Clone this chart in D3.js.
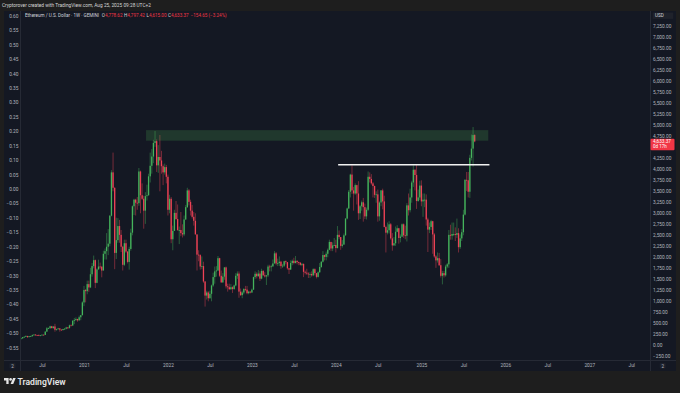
<!DOCTYPE html>
<html><head><meta charset="utf-8">
<script src="https://cdn.jsdelivr.net/npm/d3@7"></script>
<style>html,body{margin:0;padding:0;background:#1e1e1e;overflow:hidden}svg{display:block}</style>
</head><body><svg id="c" width="680" height="393"></svg>
<script>
// ---- DATA (ETH/USD weekly, Gemini) ----
const firstWeek = "2020-03-30";
const opens = [
131,143,158,186,197,210,187,207,208,231,244,233,229,221,227,241,236,311,386,391,433,391,428,353,366,384,355,346,370,377,406,396,453,448,560,575,597,567,637,684,
975,1255,1230,1390,1315,1615,1800,1935,1420,1725,1790,1785,1700,2080,2140,2240,2310,2945,3930,3580,2100,2390,2710,2510,2240,1830,2320,2130,1895,2190,2560,3160,3310,3240,3230,3950,3410,3330,3060,3390,3410,3840,4080,4290,4600,4640,4090,4280,4200,4070,3930,4050,
3830,3080,3330,2410,2600,3010,2870,2620,2620,2550,2520,2860,3140,3520,3260,3060,2920,2830,2520,2060,2050,1790,1800,1450,1130,1200,1070,1170,1360,1550,1680,1700,1980,1580,1430,1560,1770,1340,1320,1275,1320,1280,1360,1580,1630,1220,1140,1200,1280,1265,1185,1220,
1200,1265,1550,1625,1570,1630,1515,1690,1590,1565,1590,1790,1780,1795,1860,2090,1860,1870,1900,1800,1810,1910,1890,1750,1720,1870,1920,1870,1920,1890,1880,1830,1850,1670,1650,1630,1620,1620,1590,1730,1640,1555,1660,1780,1900,2050,2010,2080,2170,2350,2200,2270,
2280,2210,2510,2460,2260,2290,2500,2880,3110,3490,3880,3520,3450,3640,3450,3000,3160,3250,3140,2930,3080,3830,3780,3680,3620,3420,3430,2930,3245,3520,3270,2690,2560,2615,2750,2430,2270,2320,2580,2660,2440,2470,2750,2500,2490,3180,3070,3360,3700,3990,3870,3280,3360,
3630,3270,3310,3310,2860,2630,2690,2820,2520,2020,1930,1980,1820,1580,1640,1590,1790,1840,2510,2490,2530,2530,2510,2550,2230,2430,2570,2970,3760,3750,3490,4260,4470,4778.62];
const highs = [
146,175,188,198,227,218,211,218,245,253,252,237,248,234,247,245,320,415,404,445,442,430,488,378,397,390,366,375,392,420,415,470,475,565,622,636,604,675,690,1000,
1350,1280,1470,1470,1760,1870,2040,1950,1750,1945,1880,1805,2150,2200,2550,2640,2960,3980,4380,3590,2900,2890,2850,2620,2260,2400,2400,2140,2240,2650,3180,3330,3330,3370,4030,3970,3680,3400,3480,3650,3900,4380,4460,4670,4870,4680,4550,4780,4420,4110,4130,4100,
3880,3420,3370,2720,3080,3280,3200,2700,3030,2750,2950,3190,3580,3550,3310,3190,3030,3000,2520,2160,2070,2020,1900,1460,1240,1230,1240,1380,1650,1790,1800,2030,1990,1700,1640,1780,1790,1400,1400,1390,1340,1380,1640,1680,1680,1290,1240,1300,1350,1350,1240,1225,
1290,1560,1680,1660,1710,1680,1740,1710,1660,1600,1830,1830,1830,1950,2140,2120,1970,2020,1920,1850,1920,1930,1890,1760,1930,1950,1990,2030,1930,1900,1880,1870,1860,1700,1740,1660,1660,1680,1750,1750,1640,1680,1870,1910,2140,2060,2130,2200,2400,2350,2340,2440,
2400,2710,2610,2460,2390,2540,2890,3130,3530,3900,4090,3600,3680,3650,3730,3190,3290,3350,3220,3130,3950,3930,3890,3710,3630,3500,3540,3270,3530,3560,3400,2720,2790,2820,2780,2550,2460,2700,2730,2670,2520,2770,2770,2720,3230,3450,3560,3740,4090,4000,4110,3540,3740,
3750,3450,3450,3430,2900,2790,2850,2830,2550,2050,2110,2100,1960,1690,1690,1830,1870,2620,2740,2790,2790,2680,2880,2660,2520,2640,3080,3780,3940,3940,4330,4790,4960,4797.42];
const lows = [
127,140,150,168,190,167,178,196,195,224,221,224,217,215,225,228,234,305,367,370,385,378,310,331,360,310,335,337,361,365,371,380,441,445,480,555,535,563,570,680,
890,975,1160,1215,1300,1560,1750,1300,1410,1720,1730,1545,1700,1950,1950,2050,2250,2930,3500,1730,1960,2330,2330,2120,1700,1800,2100,1860,1720,2150,2500,2960,2950,3080,3170,3000,3300,2650,2760,3290,3400,3700,3900,4140,4510,3940,3920,3500,3900,3640,3880,3680,
2950,3000,2320,2160,2600,2850,2600,2300,2480,2450,2480,2850,3120,3180,2950,2880,2720,2520,1700,1910,1720,1730,1420,880,1040,1000,1060,1000,1330,1400,1560,1690,1550,1420,1420,1490,1290,1220,1260,1260,1190,1260,1340,1510,1080,1120,1070,1160,1230,1160,1160,1180,
1190,1260,1510,1520,1560,1460,1500,1580,1540,1370,1550,1680,1680,1780,1860,1820,1800,1800,1740,1760,1780,1840,1720,1620,1720,1820,1840,1860,1840,1820,1810,1800,1550,1610,1600,1530,1530,1560,1570,1590,1520,1540,1650,1760,1880,1930,1930,2000,2160,2140,2140,2260,
2110,2200,2410,2170,2220,2280,2490,2860,3100,3360,3440,3060,3420,3200,2850,2870,3060,2810,2870,2860,3050,3700,3650,3360,3350,3240,2810,2830,3160,3090,2680,2110,2520,2540,2400,2150,2260,2260,2570,2310,2340,2460,2440,2410,2360,2950,3020,3240,3600,3520,3100,3260,3300,
3160,2920,3140,2720,2120,2550,2620,2080,1990,1760,1880,1800,1540,1385,1540,1560,1750,1760,2400,2400,2480,2370,2440,2110,2190,2370,2500,2950,3510,3360,3350,4200,4060,4615];
const closes = [
143,158,186,197,210,187,207,208,231,244,233,229,221,227,241,236,311,386,391,433,391,428,353,366,384,355,346,370,377,406,396,453,448,560,575,597,567,637,684,975,
1255,1230,1390,1315,1615,1800,1935,1420,1725,1790,1785,1700,2080,2140,2240,2310,2945,3930,3580,2100,2390,2710,2510,2240,1830,2320,2130,1895,2190,2560,3160,3310,3240,3230,3950,3410,3330,3060,3390,3410,3840,4080,4290,4600,4640,4090,4280,4200,4070,3930,4050,3830,
3080,3330,2410,2600,3010,2870,2620,2620,2550,2520,2860,3140,3520,3260,3060,2920,2830,2520,2060,2050,1790,1800,1450,1130,1200,1070,1170,1360,1550,1680,1700,1980,1580,1430,1560,1770,1340,1320,1275,1320,1280,1360,1580,1630,1220,1140,1200,1280,1265,1185,1220,1200,
1265,1550,1625,1570,1630,1515,1690,1590,1565,1590,1790,1780,1795,1860,2090,1860,1870,1900,1800,1810,1910,1890,1750,1720,1870,1920,1870,1920,1890,1880,1830,1850,1670,1650,1630,1620,1620,1590,1730,1640,1555,1660,1780,1900,2050,2010,2080,2170,2350,2200,2270,2280,
2210,2510,2460,2260,2290,2500,2880,3110,3490,3880,3520,3450,3640,3450,3000,3160,3250,3140,2930,3080,3830,3780,3680,3620,3420,3430,2930,3245,3520,3270,2690,2560,2615,2750,2430,2270,2320,2580,2660,2440,2470,2750,2500,2490,3180,3070,3360,3700,3990,3870,3280,3360,3630,
3270,3310,3310,2860,2630,2690,2820,2520,2020,1930,1980,1820,1580,1640,1590,1790,1840,2510,2490,2530,2530,2510,2550,2230,2430,2570,2970,3760,3750,3490,4260,4470,4778.62,4633.37];

// 4,500.00 is hidden behind the last-price label in the reference
const rightTicks = [-250,0,250,500,750,1000,1250,1500,1750,2000,2250,2500,2750,3000,3250,3500,3750,4000,4250,4750,5000,5250,5500,5750,6000,6250,6500,6750,7000,7250];
const leftTicks = [0.60,0.55,0.50,0.45,0.40,0.35,0.30,0.25,0.20,0.15,0.10,0.05,0.00,-0.05,-0.10,-0.15,-0.20,-0.25,-0.30,-0.35,-0.40,-0.45,-0.50,-0.55];
const timeTickDates = ["2020-07-06","2021-01-04","2021-07-05","2022-01-03","2022-07-04","2023-01-02","2023-07-03","2024-01-01","2024-07-01","2025-01-06","2025-07-07","2026-01-05","2026-07-06","2027-01-04","2027-07-05"];
const timeTickLabels = ["Jul","2021","Jul","2022","Jul","2023","Jul","2024","Jul","2025","Jul","2026","Jul","2027","Jul"];
const zonePrices = [4650, 4890];
const zoneDates = ["2021-09-30","2025-10-23"];
const levelPrice = 4105;
const levelDates = ["2024-01-11","2025-10-28"];
const lastPrice = 4633.37;

// ---- DRAW ----
const W = 680, H = 393;
const parse = d3.timeParse("%Y-%m-%d");
const start = parse(firstWeek);
const dates = closes.map((_, i) => d3.timeDay.offset(start, 7 * i));
const FONT = "Roboto, 'Noto Sans', sans-serif";
const AX = "#b2b5be";
const UP = "#45b45c", DOWN = "#ee4256";

const svg = d3.select("#c").style("font-family", FONT);
svg.append("rect").attr("width", W).attr("height", H).attr("fill", "#1e1e1e");
const paneL = 4, paneR = 676, paneT = 11, paneB = 371;
const plotL = 20.5, plotR = 650.5, plotB = 360.5;
svg.append("rect").attr("x", paneL).attr("y", paneT).attr("width", paneR - paneL).attr("height", paneB - paneT).attr("fill", "#141823");

const x = d3.scaleTime().domain([parse("2021-01-04"), parse("2027-01-04")]).range([84, 589.3]);
const y = d3.scaleLinear().domain([0, 7250]).range([345.3, 26.3]);
const yl = d3.scaleLinear().domain([-0.55, 0.55]).range([347.7, 30.3]);

svg.append("clipPath").attr("id", "clip").append("rect")
  .attr("x", plotL).attr("y", paneT).attr("width", plotR - plotL).attr("height", plotB - paneT);
const plot = svg.append("g").attr("clip-path", "url(#clip)");

const idx = d3.range(closes.length);
plot.append("g").selectAll("line").data(idx).join("line")
  .attr("x1", i => x(dates[i])).attr("x2", i => x(dates[i]))
  .attr("y1", i => y(highs[i])).attr("y2", i => y(lows[i]))
  .attr("stroke", i => closes[i] >= opens[i] ? UP : DOWN)
  .attr("stroke-width", 0.6).attr("stroke-opacity", 0.75);
plot.append("g").selectAll("rect").data(idx).join("rect")
  .attr("x", i => x(dates[i]) - 0.65).attr("width", 1.3)
  .attr("y", i => y(Math.max(opens[i], closes[i])))
  .attr("height", i => Math.max(0.8, Math.abs(y(opens[i]) - y(closes[i]))))
  .attr("fill", i => closes[i] >= opens[i] ? UP : DOWN);

// zone and level
plot.append("rect")
  .attr("x", x(parse(zoneDates[0]))).attr("width", x(parse(zoneDates[1])) - x(parse(zoneDates[0])))
  .attr("y", y(zonePrices[1])).attr("height", y(zonePrices[0]) - y(zonePrices[1]))
  .attr("fill", "#4caf50").attr("fill-opacity", 0.22);
plot.append("line")
  .attr("x1", x(parse(levelDates[0]))).attr("x2", x(parse(levelDates[1])))
  .attr("y1", y(levelPrice)).attr("y2", y(levelPrice))
  .attr("stroke", "#f2f2f2").attr("stroke-width", 1.5);

// separators
const sep = svg.append("g").attr("stroke", "#262a35").attr("stroke-width", 1);
sep.append("line").attr("x1", plotL).attr("x2", plotL).attr("y1", paneT).attr("y2", paneB);
sep.append("line").attr("x1", plotR).attr("x2", plotR).attr("y1", paneT).attr("y2", paneB);
sep.append("line").attr("x1", paneL).attr("x2", paneR).attr("y1", plotB).attr("y2", plotB);

function styleAxis(g) {
  g.select(".domain").remove();
  g.selectAll(".tick line").remove();
  g.selectAll("text").attr("fill", AX).attr("font-size", 4.8).attr("font-family", FONT);
}
const fmtR = d3.format(",.2f");
svg.append("g").attr("transform", "translate(653,0)")
  .call(d3.axisRight(y).tickValues(rightTicks).tickSize(0).tickPadding(0).tickFormat(fmtR))
  .call(styleAxis);
const fmtL = d3.format(".2f");
svg.append("g").attr("transform", "translate(18.5,0)")
  .call(d3.axisLeft(yl).tickValues(leftTicks).tickSize(0).tickPadding(0).tickFormat(fmtL))
  .call(styleAxis);
svg.append("g").attr("transform", "translate(0,363.2)")
  .call(d3.axisBottom(x).tickValues(timeTickDates.map(parse)).tickSize(0).tickPadding(0)
    .tickFormat((d, i) => timeTickLabels[i]))
  .call(styleAxis);

// USD box
svg.append("rect").attr("x", 652.7).attr("y", 12.6).attr("width", 20.5).attr("height", 6.3).attr("fill", "#1f222b");
svg.append("text").attr("x", 655).attr("y", 17.3).attr("font-size", 4.6).attr("fill", "#d1d4dc").text("USD");

// price label
svg.append("rect").attr("x", 650.5).attr("y", y(lastPrice) - 2.6).attr("width", 24).attr("height", 11.4).attr("rx", 1).attr("fill", "#f23645");
svg.append("text").attr("x", 653).attr("y", y(lastPrice) + 1.8).attr("font-size", 4.7).attr("fill", "#ffffff").text(fmtR(lastPrice));
svg.append("text").attr("x", 653).attr("y", y(lastPrice) + 6.9).attr("font-size", 4.5).attr("fill", "#ffffff").text("0d 17h");

// corner boxes
[12.5, 662.7].forEach(cx => {
  svg.append("rect").attr("x", cx - 3).attr("y", 363).attr("width", 6).attr("height", 5.5).attr("rx", 1).attr("fill", "#1d212c");
  svg.append("text").attr("x", cx).attr("y", 367.6).attr("text-anchor", "middle").attr("font-size", 4.6).attr("fill", AX).text("2");
});

// captions
svg.append("text").attr("x", 2).attr("y", 7.4).attr("font-size", 4.8).attr("fill", "#d6d6d6")
  .text("Cryptorover created with TradingView.com, Aug 25, 2025 09:28 UTC+2");
const hdr = svg.append("text").attr("x", 25).attr("y", 17.2).attr("font-size", 4.6).attr("fill", "#d1d4dc");
hdr.append("tspan").text("Ethereum / U.S. Dollar · 1W · GEMINI ");
const RED = "#f23645";
[["O", "4,778.62"], ["H", "4,797.42"], ["L", "4,615.00"], ["C", "4,633.37"]].forEach(([k, v]) => {
  hdr.append("tspan").attr("dx", 1.5).attr("fill", "#d1d4dc").text(k);
  hdr.append("tspan").attr("fill", RED).text(v);
});
hdr.append("tspan").attr("dx", 2).attr("fill", RED).text("−154.65 (−3.24%)");

// TradingView logo
const logo = svg.append("g").attr("transform", "translate(4,376.8) scale(0.33)").attr("fill", "#e6e6e6");
logo.append("path").attr("d", "M14 22H7V11H0V4h14v18zM28 22h-8l7.5-18h8L28 22z");
logo.append("circle").attr("cx", 20).attr("cy", 8).attr("r", 4);
svg.append("text").attr("x", 17.5).attr("y", 384.6).attr("font-size", 8.6).attr("font-weight", 600)
  .attr("fill", "#e6e6e6").text("TradingView");
</script></body></html>
